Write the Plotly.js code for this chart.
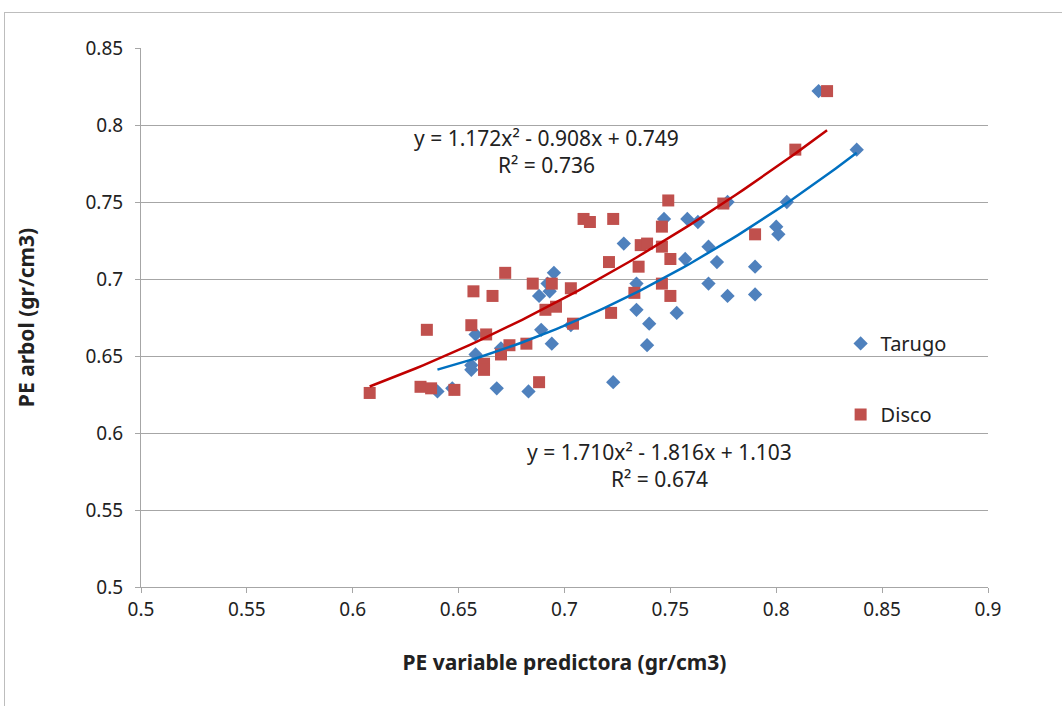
<!DOCTYPE html>
<html>
<head>
<meta charset="utf-8">
<script src="https://cdn.plot.ly/plotly-3.0.1.min.js"></script>
<style>
  html, body { margin: 0; padding: 0; background: #ffffff; overflow: hidden; }
  #chart { position: absolute; left: 0; top: 0; width: 1062px; height: 706px; }
  #frame { position: absolute; left: 4px; top: 12px; width: 1100px; height: 800px;
           border: 1px solid #bdbdbd; pointer-events: none; }
</style>
</head>
<body>
<div id="chart"></div>
<div id="frame"></div>
<script>
// Tarugo (blue diamonds)
const tarugoX = [0.640, 0.647, 0.668, 0.683, 0.658, 0.658, 0.656, 0.656, 0.670, 0.689,
                 0.694, 0.688, 0.692, 0.693, 0.695, 0.703, 0.723, 0.734, 0.734, 0.740,
                 0.739, 0.753, 0.757, 0.772, 0.768, 0.777, 0.728, 0.747, 0.758, 0.763,
                 0.768, 0.777, 0.790, 0.790, 0.800, 0.801, 0.805, 0.820, 0.838];
const tarugoY = [0.627, 0.629, 0.629, 0.627, 0.664, 0.651, 0.644, 0.641, 0.655, 0.667,
                 0.658, 0.689, 0.697, 0.692, 0.704, 0.670, 0.633, 0.697, 0.680, 0.671,
                 0.657, 0.678, 0.713, 0.711, 0.697, 0.689, 0.723, 0.739, 0.739, 0.737,
                 0.721, 0.750, 0.708, 0.690, 0.734, 0.729, 0.750, 0.822, 0.784];

// Disco (red squares)
const discoX = [0.608, 0.632, 0.637, 0.648, 0.635, 0.656, 0.663, 0.657, 0.666, 0.672,
                0.685, 0.694, 0.691, 0.696, 0.682, 0.674, 0.670, 0.662, 0.662, 0.688,
                0.703, 0.704, 0.721, 0.735, 0.722, 0.733, 0.746, 0.750, 0.750, 0.709,
                0.712, 0.723, 0.749, 0.746, 0.736, 0.739, 0.746, 0.775, 0.790, 0.809, 0.824];
const discoY = [0.626, 0.630, 0.629, 0.628, 0.667, 0.670, 0.664, 0.692, 0.689, 0.704,
                0.697, 0.697, 0.680, 0.682, 0.658, 0.657, 0.651, 0.645, 0.641, 0.633,
                0.694, 0.671, 0.711, 0.708, 0.678, 0.691, 0.697, 0.689, 0.713, 0.739,
                0.737, 0.739, 0.751, 0.734, 0.722, 0.723, 0.721, 0.749, 0.729, 0.784, 0.822];

// Polynomial trendline coefficients [a, b, c] for y = a x^2 + b x + c (as printed on chart)
const discoCoef = [1.172, -0.908, 0.749];
const tarugoCoef = [1.710, -1.816, 1.103];

const discoEq = ["y = 1.172x² - 0.908x + 0.749", "R² = 0.736"];
const tarugoEq = ["y = 1.710x² - 1.816x + 1.103", "R² = 0.674"];

const xTicks = [0.5, 0.55, 0.6, 0.65, 0.7, 0.75, 0.8, 0.85, 0.9];
const xTickText = ["0.5", "0.55", "0.6", "0.65", "0.7", "0.75", "0.8", "0.85", "0.9"];
const yTicks = [0.5, 0.55, 0.6, 0.65, 0.7, 0.75, 0.8, 0.85];
const yTickText = ["0.5", "0.55", "0.6", "0.65", "0.7", "0.75", "0.8", "0.85"];

function trend(xs, coef) {
  const lo = Math.min(...xs), hi = Math.max(...xs);
  const n = 60, tx = [], ty = [];
  for (let i = 0; i <= n; i++) {
    const x = lo + (hi - lo) * i / n;
    tx.push(x);
    ty.push(coef[0] * x * x + coef[1] * x + coef[2]);
  }
  return {x: tx, y: ty};
}

const tT = trend(tarugoX, tarugoCoef);
const tD = trend(discoX, discoCoef);

const FONT = "Noto Sans, Open Sans, sans-serif";
const TXT = "#222";

const data = [
  {x: tarugoX, y: tarugoY, type: "scatter", mode: "markers", name: "Tarugo",
   legendgroup: "a",
   marker: {symbol: "diamond", size: 11, color: "#4F81BD"}},
  {x: discoX, y: discoY, type: "scatter", mode: "markers", name: "Disco",
   legendgroup: "b",
   marker: {symbol: "square", size: 12, color: "#C0504D"}},
  {x: tD.x, y: tD.y, type: "scatter", mode: "lines", showlegend: false,
   line: {color: "#C00000", width: 2.5}, hoverinfo: "skip"},
  {x: tT.x, y: tT.y, type: "scatter", mode: "lines", showlegend: false,
   line: {color: "#0070C0", width: 2.5}, hoverinfo: "skip"}
];

const eqFont = {family: FONT, size: 21, color: TXT};

const layout = {
  width: 1062, height: 706,
  margin: {l: 141, r: 74, t: 48, b: 119},
  paper_bgcolor: "#ffffff", plot_bgcolor: "#ffffff",
  font: {family: FONT, size: 19, color: TXT},
  showlegend: true,
  legend: {x: 0.826, y: 0.488, xanchor: "left", yanchor: "top",
           font: {family: FONT, size: 20, color: TXT},
           traceorder: "grouped", tracegroupgap: 42, bgcolor: "rgba(0,0,0,0)"},
  xaxis: {range: [0.5, 0.9], tickvals: xTicks, ticktext: xTickText,
          showgrid: false, zeroline: false,
          showline: true, linecolor: "#a6a6a6", linewidth: 1,
          ticks: "outside", ticklen: 5, tickcolor: "#a6a6a6",
          tickfont: {family: FONT, size: 19, color: TXT},
          title: {text: "<b>PE variable predictora (gr/cm3)</b>",
                  font: {family: FONT, size: 21, color: TXT}, standoff: 34}},
  yaxis: {range: [0.5, 0.85], tickvals: yTicks, ticktext: yTickText,
          showgrid: true, gridcolor: "#a6a6a6", gridwidth: 1, zeroline: false,
          showline: true, linecolor: "#a6a6a6", linewidth: 1,
          ticks: "outside", ticklen: 5, tickcolor: "#a6a6a6",
          ticklabelstandoff: 8,
          tickfont: {family: FONT, size: 19, color: TXT},
          title: {text: "<b>PE arbol (gr/cm3)</b>",
                  font: {family: FONT, size: 21, color: TXT}, standoff: 45}},
  annotations: [
    {x: 0.6916, y: 0.7916, xref: "x", yref: "y", text: discoEq[0], showarrow: false, font: eqFont},
    {x: 0.6916, y: 0.7740, xref: "x", yref: "y", text: discoEq[1], showarrow: false, font: eqFont},
    {x: 0.7450, y: 0.5877, xref: "x", yref: "y", text: tarugoEq[0], showarrow: false, font: eqFont},
    {x: 0.7450, y: 0.5701, xref: "x", yref: "y", text: tarugoEq[1], showarrow: false, font: eqFont}
  ]
};

Plotly.newPlot("chart", data, layout, {displayModeBar: false, staticPlot: true});
</script>
</body>
</html>
